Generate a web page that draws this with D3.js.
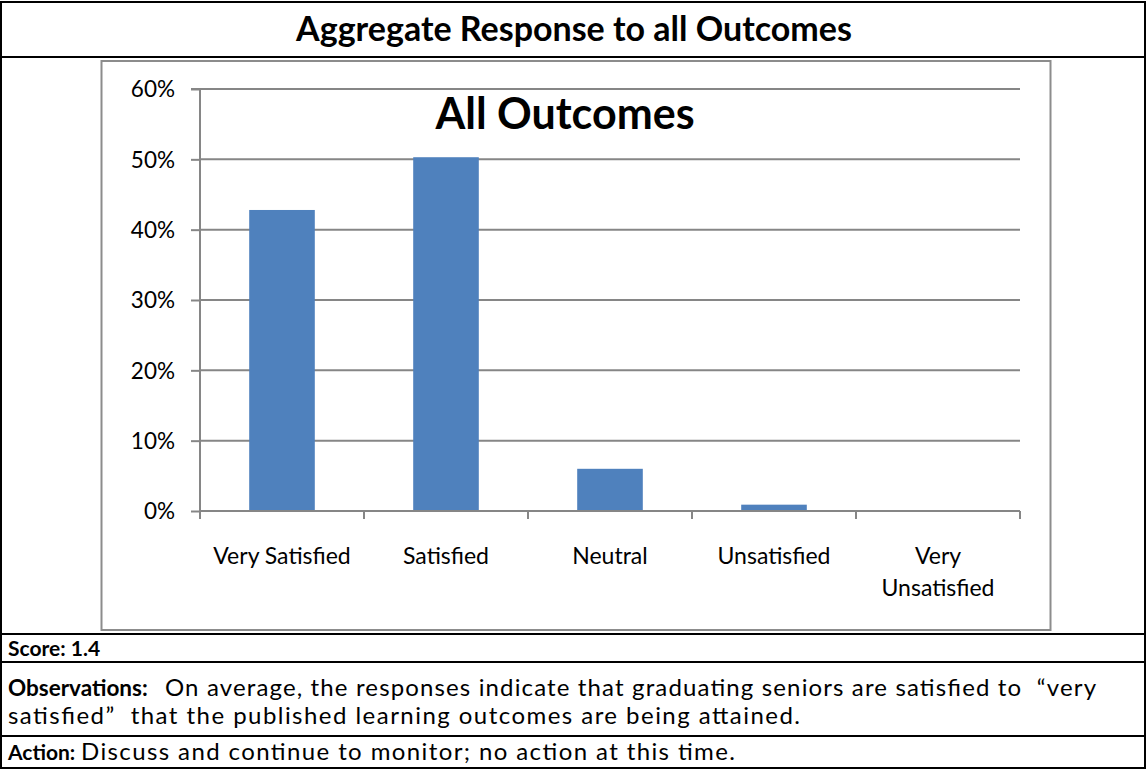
<!DOCTYPE html>
<html>
<head>
<meta charset="utf-8">
<script src="https://cdn.jsdelivr.net/npm/d3@7"></script>
<style>
  html, body { margin: 0; padding: 0; background: #fff; }
  svg { display: block; }
</style>
</head>
<body>
<svg id="chart" width="1146" height="770"></svg>
<script>
// ---- data ----
const categories = ["Very Satisfied", "Satisfied", "Neutral", "Unsatisfied", "Very Unsatisfied"];
const values = [0.428, 0.503, 0.060, 0.009, 0.0];
const yTicks = [0, 0.1, 0.2, 0.3, 0.4, 0.5, 0.6];
const pageTitle = "Aggregate Response to all Outcomes";
const chartTitle = "All Outcomes";
const scoreLabel = "Score:";
const scoreValue = "1.4";
const obsLabel = "Observations:";
const obsLines = ["On average, the responses indicate that graduating seniors are satisfied to  \u201cvery", "satisfied\u201d  that the published learning outcomes are being attained."];
const actionLabel = "Action:";
const actionText = "Discuss and continue to monitor; no action at this time.";

const FONT = "Lato, 'Open Sans', 'DejaVu Sans', sans-serif";
const svg = d3.select("#chart");

// ---- table frame ----
const T = {x0: 1, x1: 1145, top: 2, rowTitle: 57, rowChart: 634, rowScore: 662, rowObs: 736, bottom: 768};
const tbl = svg.append("g");
tbl.append("rect").attr("x", T.x0).attr("y", T.top).attr("width", T.x1 - T.x0).attr("height", T.bottom - T.top)
  .attr("fill", "none").attr("stroke", "#000").attr("stroke-width", 2);
[T.rowTitle, T.rowChart, T.rowScore, T.rowObs].forEach(y => {
  tbl.append("line").attr("x1", T.x0).attr("x2", T.x1).attr("y1", y).attr("y2", y)
    .attr("stroke", "#000").attr("stroke-width", 2);
});
tbl.append("text").attr("x", 574).attr("y", 41).attr("text-anchor", "middle")
  .attr("font-family", FONT).attr("font-weight", "bold").attr("font-size", 34).text(pageTitle);

function fitText(sel, width) {
  sel.attr("textLength", width).attr("lengthAdjust", "spacing");
}
const BODY = 24, BOLD = 21;

// Score
tbl.append("text").attr("x", 8).attr("y", 656).attr("font-family", FONT).attr("font-size", BOLD)
  .attr("font-weight", "bold").text(scoreLabel + " " + scoreValue);

// Observations
tbl.append("text").attr("x", 8).attr("y", 696).attr("font-family", FONT).attr("font-size", BOLD + 1.5)
  .attr("font-weight", "bold").text(obsLabel);
tbl.append("text").attr("x", 165).attr("y", 696).attr("font-family", FONT).attr("font-size", BODY)
  .attr("xml:space", "preserve").call(fitText, 931).text(obsLines[0]);
tbl.append("text").attr("x", 8).attr("y", 724).attr("font-family", FONT).attr("font-size", BODY)
  .attr("xml:space", "preserve").call(fitText, 792).text(obsLines[1]);

// Action
tbl.append("text").attr("x", 8).attr("y", 760).attr("font-family", FONT).attr("font-size", BOLD)
  .attr("font-weight", "bold").text(actionLabel);
tbl.append("text").attr("x", 81).attr("y", 760).attr("font-family", FONT).attr("font-size", BODY)
  .call(fitText, 654).text(actionText);

// ---- chart frame ----
svg.append("rect").attr("x", 101.5).attr("y", 61).attr("width", 949).attr("height", 569)
  .attr("fill", "#fff").attr("stroke", "#8c8c8c").attr("stroke-width", 2);

const plot = {left: 200, right: 1020, top: 89, bottom: 511};
const x = d3.scaleBand().domain(categories).range([plot.left, plot.right]).paddingInner(0.6).paddingOuter(0.3);
const xb = d3.scaleBand().domain(categories).range([plot.left, plot.right]).padding(0);
const y = d3.scaleLinear().domain([0, 0.6]).range([plot.bottom, plot.top]);

const g = svg.append("g");
// gridlines
g.selectAll("line.grid").data(yTicks.filter(t => t > 0)).join("line")
  .attr("class", "grid")
  .attr("x1", plot.left).attr("x2", plot.right)
  .attr("y1", d => y(d)).attr("y2", d => y(d))
  .attr("stroke", "#868686").attr("stroke-width", 2);

// bars
g.selectAll("rect.bar").data(categories).join("rect")
  .attr("class", "bar")
  .attr("x", d => x(d))
  .attr("width", x.bandwidth())
  .attr("y", (d, i) => y(values[i]))
  .attr("height", (d, i) => plot.bottom - y(values[i]))
  .attr("fill", "#4F81BD");

// y axis
const yAxis = d3.axisLeft(y).tickValues(yTicks).tickFormat(d3.format(".0%")).tickSize(9).tickPadding(16);
const ya = g.append("g").attr("transform", `translate(${plot.left},0)`).call(yAxis);
ya.select(".domain").attr("stroke", "#868686").attr("stroke-width", 2).attr("d", `M-9,${plot.top}H0V${plot.bottom}`);
ya.selectAll(".tick line").attr("stroke", "#868686").attr("stroke-width", 2);
ya.selectAll(".tick text").attr("font-family", FONT).attr("font-size", 22.5).attr("fill", "#000").attr("dy", "0.35em");

// x axis
const xa = g.append("g").attr("transform", `translate(0,${plot.bottom})`);
xa.append("line").attr("x1", plot.left).attr("x2", plot.right).attr("y1", 0).attr("y2", 0)
  .attr("stroke", "#868686").attr("stroke-width", 2);
const bounds = categories.map(c => xb(c)).concat([plot.right]);
xa.selectAll("line.tk").data(bounds).join("line").attr("class", "tk")
  .attr("x1", d => d).attr("x2", d => d).attr("y1", 0).attr("y2", 8)
  .attr("stroke", "#868686").attr("stroke-width", 2);
const labelLines = {"Very Unsatisfied": ["Very", "Unsatisfied"]};
xa.selectAll("text.cat").data(categories).join("text").attr("class", "cat")
  .attr("font-family", FONT).attr("font-size", 23).attr("text-anchor", "middle")
  .each(function(d) {
    const lines = labelLines[d] || [d];
    const t = d3.select(this);
    lines.forEach((ln, i) => {
      t.append("tspan").attr("x", xb(d) + xb.bandwidth() / 2).attr("y", 53 + i * 32).text(ln);
    });
  });

// chart title
svg.append("text").attr("x", 565).attr("y", 129).attr("text-anchor", "middle")
  .attr("font-family", FONT).attr("font-weight", "bold").attr("font-size", 43).text(chartTitle);
</script>
</body>
</html>
